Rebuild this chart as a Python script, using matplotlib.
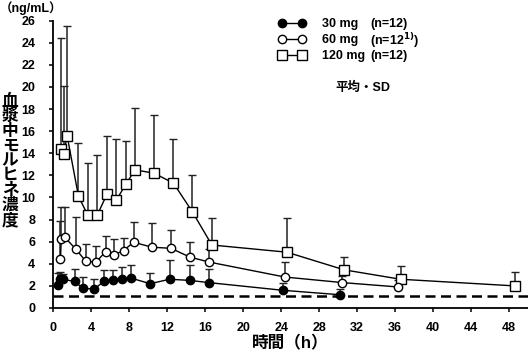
import numpy as np
import matplotlib.pyplot as plt

plt.rcParams['font.family'] = ['Liberation Sans', 'Noto Sans CJK JP']
plt.rcParams['font.weight'] = 'bold'

# 30 mg
t30 = [0.5, 0.75, 1.0, 2.25, 3.1, 4.3, 5.3, 6.25, 7.2, 8.2, 10.2, 12.25, 14.35, 16.35, 24.2, 30.2]
c30 = [2.1, 2.6, 2.6, 2.4, 1.8, 1.7, 2.4, 2.5, 2.6, 2.7, 2.2, 2.6, 2.5, 2.3, 1.6, 1.2]
top30 = [3.2, 3.3, 3.1, 3.5, 2.85, 2.65, 3.45, 3.45, 3.75, 3.9, 3.15, 4.3, 3.9, 3.55, 2.3, 1.75]

# 60 mg
t60 = [0.75, 0.84, 1.2, 2.4, 3.4, 4.5, 5.5, 6.4, 7.4, 8.45, 10.4, 12.4, 14.4, 16.45, 24.4, 30.45, 36.35]
c60 = [4.4, 6.27, 6.4, 5.3, 4.25, 4.15, 5.1, 4.8, 5.2, 5.95, 5.5, 5.4, 4.6, 4.15, 2.8, 2.3, 1.9]
top60 = [7.85, 9.15, 9.15, 8.2, 5.75, 5.65, 6.55, 6.2, 6.35, 7.8, 7.65, 7.1, 5.95, 5.3, 4.2, 2.9, 2.5]

# 120 mg
t120 = [0.84, 1.1, 1.45, 2.65, 3.6, 4.65, 5.65, 6.65, 7.65, 8.6, 10.6, 12.65, 14.65, 16.7, 24.6, 30.65, 36.6, 48.6]
c120 = [14.4, 13.9, 15.6, 10.1, 8.45, 8.45, 10.3, 9.8, 11.2, 12.5, 12.2, 11.3, 8.7, 5.7, 5.05, 3.45, 2.6, 2.0]
top120 = [24.4, 20.1, 25.5, 14.9, 13.1, 13.8, 15.6, 15.3, 15.1, 18.1, 17.5, 15.3, 12.0, 8.1, 8.1, 4.6, 3.8, 3.3]

lloq = 1.1

fig = plt.figure(figsize=(5.28, 3.5), dpi=100)
ax = fig.add_axes([0.101, 0.12, 0.899, 0.821])

series = [
    (t120, c120, top120, 's', 'white', 6.5, '120 mg'),
    (t60, c60, top60, 'o', 'white', 6, '60 mg'),
    (t30, c30, top30, 'o', 'black', 6, '30 mg'),
]
handles = {}
for t, c, top, mk, fc, ms, lab in series:
    c = np.array(c)
    sd = np.array(top) - c
    eb = ax.errorbar(t, c, yerr=[np.zeros_like(sd), sd], fmt='-', color='black',
                     ecolor='#222222', elinewidth=1.1, capsize=2.6, capthick=1.1,
                     lw=1.0, marker=mk, mfc=fc, mec='black', mew=1.0, ms=ms)
    handles[lab] = eb.lines[0]

ax.axhline(lloq, color='black', lw=1.8, ls=(0, (4, 2.2)))

ax.set_xlim(0, 50)
ax.set_ylim(0, 26)
ax.set_xticks(np.arange(0, 49, 4))
ax.set_yticks(np.arange(0, 27, 2))
ax.spines['top'].set_visible(False)
ax.spines['right'].set_visible(False)
for s in ['left', 'bottom']:
    ax.spines[s].set_linewidth(1.3)
ax.tick_params(direction='out', length=3, width=1.1, labelsize=9)
ax.tick_params(axis='x', pad=7)
ax.tick_params(axis='y', pad=10)

ax.set_xlabel('時間（h）', fontsize=12, fontweight='bold', labelpad=1)
fig.text(0.0, 0.978, '（ng/mL）', fontsize=9, fontweight='bold', va='center', ha='left')
fig.text(0.019, 0.54, '\n'.join('血漿中モルヒネ濃度'), fontsize=12, fontweight='bold',
         ha='center', va='center', linespacing=0.98)

labels = ['30 mg', '60 mg', '120 mg']
leg = ax.legend([handles[l] for l in labels], labels, loc='upper left',
                bbox_to_anchor=(0.464, 1.025), frameon=False, numpoints=2,
                handlelength=2.2, handletextpad=1.3, labelspacing=0.3,
                fontsize=9, borderaxespad=0)
fig.canvas.draw()
ns = ['(n=12)', '(n=12$^{1)}$)', '(n=12)']
inv = fig.transFigure.inverted()
for txt, n in zip(leg.get_texts(), ns):
    bb = txt.get_window_extent()
    yc = inv.transform((0, (bb.y0 + bb.y1) / 2))[1]
    fig.text(370 / 528, yc, n, fontsize=9, fontweight='bold', va='center', ha='left')

fig.text(363 / 528, 1 - 88 / 350, '平均・SD', fontsize=9, fontweight='bold', ha='center', va='center')

fig.savefig('out.png', dpi=100)
